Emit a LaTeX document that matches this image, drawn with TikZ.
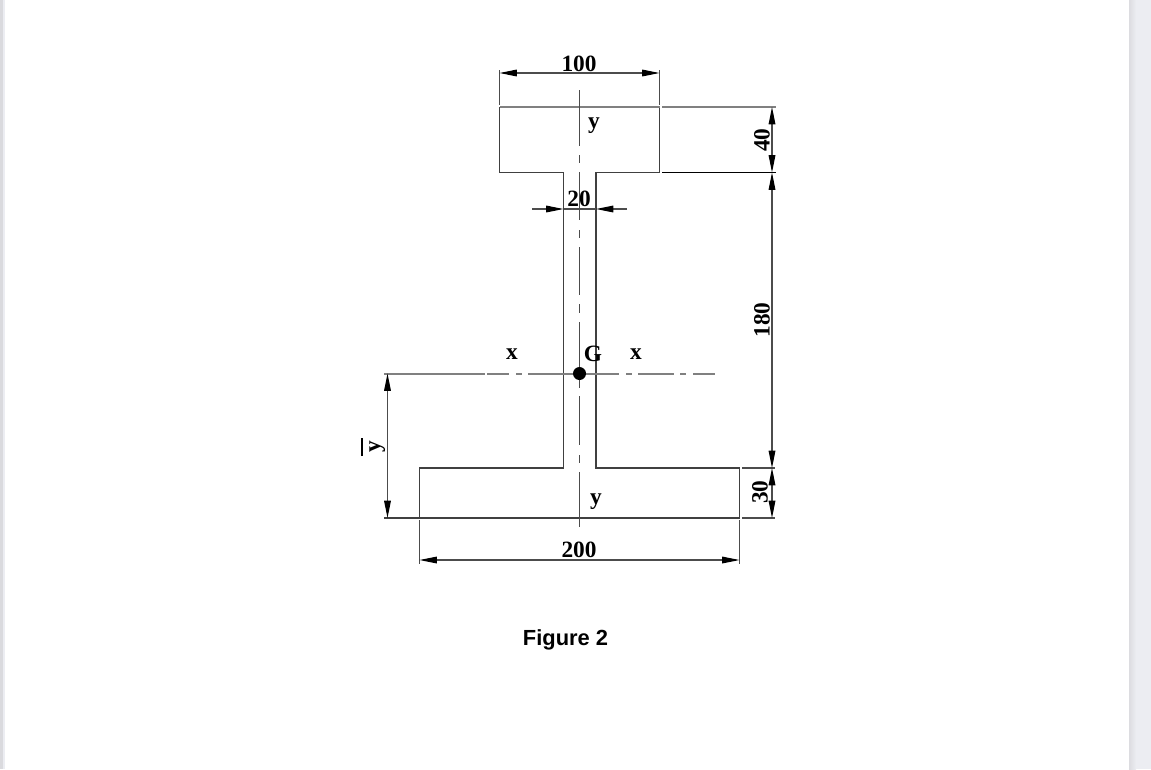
\documentclass[tikz,border=0pt]{standalone}
\usepackage{fontspec}
\setmainfont{Liberation Serif}
\setsansfont{Liberation Sans}
\usetikzlibrary{arrows.meta}

\definecolor{stripfill}{HTML}{ECEDF2}
\definecolor{stripedge}{HTML}{DCDCE0}
\definecolor{stripleft}{HTML}{DADADE}

\begin{document}
\begin{tikzpicture}
[
	x=.75pt,
	y=-.75pt,
% Section outline style
	outline/.style={
		black!75,
		line width=.8pt},
% Extension line style
	extline/.style={
		black!70,
		line width=.8pt},
% Dimension line style
	dimline/.style={
		black!70,
		line width=.8pt,
		{Triangle[length=13pt,width=5pt,black]}-{Triangle[length=13pt,width=5pt,black]}},
% One sided dimension line style
	sideline/.style={
		black!70,
		line width=.8pt,
		-{Triangle[length=13pt,width=5pt,black]}},
% Centre line styles
	axisline/.style={
		black!70,
		line width=.8pt},
	xaxisline/.style={
		black!50,
		line width=1.5pt},
% Text styles
	dimtext/.style={
		inner sep=0pt,
		font=\bfseries\fontsize{17.5}{17.5}\selectfont},
]

% Page edges
\fill [stripleft] (0,0) rectangle (3,769);
\fill [stripfill] (3,0) rectangle (5,769);
\fill [stripfill] (1129,0) rectangle (1151,769);
\shade [left color=stripedge,right color=stripfill] (1129,0) rectangle (1136,769);
\useasboundingbox (0,0) rectangle (1151,769);

% Section outline
\draw [outline] (563.5,468) -- (563.5,172.5) -- (499.5,172.5) -- (499.5,107);
\draw [outline] (659.5,107) -- (659.5,172.5) -- (596,172.5) -- (596,468) -- (739.5,468) -- (739.5,518);
\draw [outline] (563.5,468) -- (419.5,468) -- (419.5,518);
\draw [xaxisline] (499.5,107) -- (659.5,107);
\draw [outline] (384,518) -- (739.5,518);

% Centre lines
\foreach \a/\b in {90/146,155/163,172/220,230/238,247/295,304/313,322/370,380/388,396/445,455/463,472/527}
	\draw [axisline] (579.5,\a) -- (579.5,\b);
\foreach \a/\b in {384/485,487/509,516/522,528/619,626/632,638/674,680/686,693/715}
	\draw [xaxisline] (\a,373.5) -- (\b,373.5);

% Centroid
\fill (579.5,373.5) circle [radius=6.5];
\node [dimtext] (G) at (593,354) {G};

% Axis labels
\node [dimtext] (ytop) at (594,126) {y};
\node [dimtext] (ybottom) at (596,502) {y};
\node [dimtext] (xleft) at (512,354.5) {x};
\node [dimtext] (xright) at (636,354.5) {x};

% Dimension points
\coordinate (topleft) at (499.5,73);
\coordinate (topright) at (659.5,73);
\coordinate (webleft) at (563.5,209);
\coordinate (webright) at (596,209);
\coordinate (webfarleft) at (532,209);
\coordinate (webfarright) at (627,209);
\coordinate (botleft) at (419.5,560);
\coordinate (botright) at (739.5,560);
\coordinate (right1) at (772,107);
\coordinate (right2) at (772,172.5);
\coordinate (right3) at (772,468);
\coordinate (right4) at (772,518);
\coordinate (ybar1) at (387.5,373.5);
\coordinate (ybar2) at (387.5,518);

% Extension lines
\draw [extline] (499.5,70) -- (499.5,105);
\draw [extline] (659.5,70) -- (659.5,105);
\draw [extline] (419.5,520) -- (419.5,564);
\draw [extline] (739.5,520) -- (739.5,564);
\draw [xaxisline] (662,107) -- (776,107);
\draw [extline,black] (662,172.5) -- (776,172.5);
\draw [extline] (742,468) -- (775,468);
\draw [extline] (742,518) -- (775,518);

% Dimension lines
\draw [dimline] (topleft) -- (topright);
\draw [dimline] (botleft) -- (botright);
\draw [sideline] (webfarleft) -- (webleft);
\draw [sideline] (webfarright) -- (webright);
\draw [extline] (webleft) -- (webright);
\draw [dimline] (right1) -- (right2);
\draw [dimline] (right2) -- (right3);
\draw [dimline] (right3) -- (right4);
\draw [dimline] (ybar1) -- (ybar2);

% Dimension labels
\node [dimtext] (width100) at (579,64) {100};
\node [dimtext] (width20) at (579,199) {20};
\node [dimtext] (width200) at (579,550) {200};
\node [dimtext,rotate=90] (height40) at (762,140) {40};
\node [dimtext,rotate=90] (height180) at (762,320) {180};
\node [dimtext,rotate=90] (height30) at (760,492) {30};
\node [dimtext,rotate=90] (ybar) at (373,447) {\vbox{\hrule height 1.8pt\kern 4.5pt\hbox to 13.5pt{\hss y\hss}}};

% Caption
\node [inner sep=0pt,font=\sffamily\bfseries\fontsize{16.4}{16.4}\selectfont] (caption) at (565.5,640) {Figure 2};

\end{tikzpicture}
\end{document}
